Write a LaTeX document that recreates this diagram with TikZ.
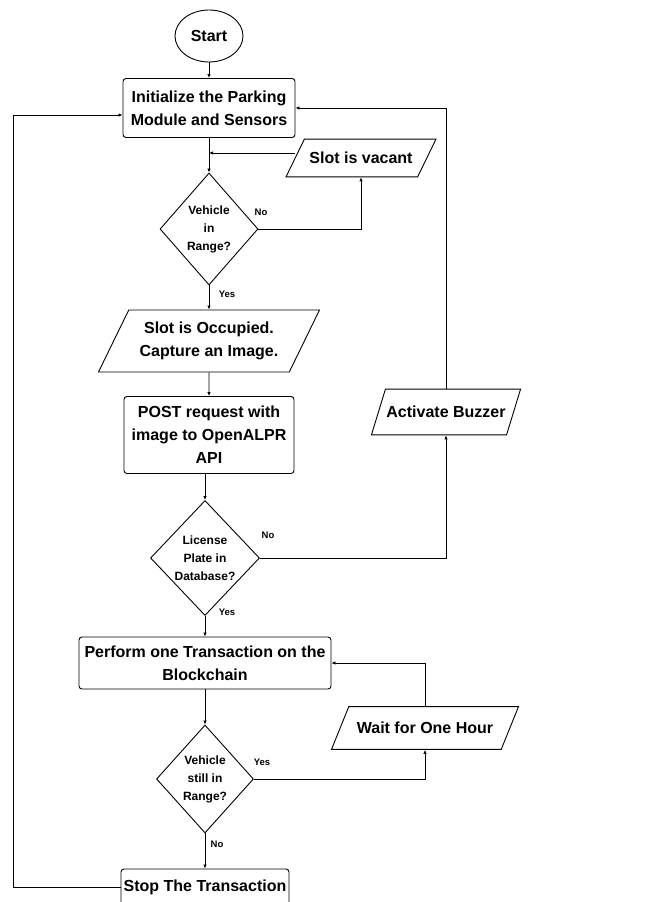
\documentclass[tikz,border=0pt]{standalone}
\usepackage{fontspec}
\setmainfont{Liberation Sans}
\usepackage{tikz}
\usetikzlibrary{shapes,arrows.meta,positioning,calc}

\begin{document}
\begin{tikzpicture}[x=1pt,y=-1pt,line width=.9pt,
		box/.style={draw,rounded corners=3pt,align=center,inner sep=1pt,font=\fontsize{16}{23}\selectfont\bfseries},
		io/.style={draw,trapezium,trapezium left angle=#1,trapezium right angle=180-#1,trapezium stretches body=true,align=center,inner xsep=1pt,font=\fontsize{16}{23}\selectfont\bfseries},
		io/.default=64,
		dec/.style={draw,diamond,align=center,inner sep=0pt,font=\fontsize{12}{18}\selectfont\bfseries},
		lbl/.style={font=\fontsize{9.5}{10}\selectfont\bfseries},
		arr/.style={-{Latex[length=4pt,width=3.5pt]}}]
		
		\useasboundingbox (0,0) rectangle (665,902);
		
		% main column
		\node[draw,ellipse,minimum width=68,minimum height=52,inner sep=0pt,font=\fontsize{16}{20}\selectfont\bfseries] (start) at (209,36) {Start};
		\node[box,minimum width=172,minimum height=59] (init) at (209,108) {Initialize the Parking\\Module and Sensors};
		\node[dec,minimum width=98,minimum height=112] (inrange) at (209,229) {Vehicle\\in\\Range?};
		\node[io,minimum width=221,inner ysep=12] (occupied) at (209,341) {Slot is Occupied.\\Capture an Image.};
		\node[box,minimum width=170,minimum height=77] (post) at (209,435) {POST request with\\image to OpenALPR\\API};
		\node[dec,minimum width=109,minimum height=115] (indb) at (205,558) {License\\Plate in\\Database?};
		\node[box,minimum width=252,minimum height=52] (perform) at (205,663) {Perform one Transaction on the\\Blockchain};
		\node[dec,minimum width=97,minimum height=108] (still) at (205,779) {Vehicle\\still in\\Range?};
		\node[box,minimum width=168,minimum height=36] (stop) at (205,887) {Stop The Transaction};
		
		% side column
		\node[io,minimum width=150,inner ysep=13] (vacant) at (361,158) {Slot is vacant};
		\node[io=73,minimum width=145,inner ysep=17] (buzzer) at (446,412) {Activate Buzzer};
		\node[io=68,minimum width=187,inner ysep=15.5] (wait) at (425,728) {Wait for One Hour};
		
		% yes / no
		\node[lbl] (no1) at (261,212) {No};
		\node[lbl] (yes1) at (227,294) {Yes};
		\node[lbl] (no2) at (268,535) {No};
		\node[lbl] (yes2) at (227,612) {Yes};
		\node[lbl] (yes3) at (262,762) {Yes};
		\node[lbl] (no3) at (217,844) {No};
		
		\coordinate (vin) at ([yshift=5pt]vacant.west);
		\coordinate (back) at (13,887);
		
		\draw[arr] (start) -- (init);
		\draw[arr] (init) -- (inrange);
		\draw[arr] (vin) -- (vin -| init.south);
		\draw[arr] (inrange.east) -| (vacant.south);
		\draw[arr] (inrange) -- (occupied);
		\draw[arr] (occupied) -- (post);
		\draw[arr] (post.south -| indb.north) -- (indb.north);
		\draw[arr] (indb.east) -| (buzzer.south);
		\draw[arr] (buzzer.north) |- (init.east);
		\draw[arr] (indb) -- (perform);
		\draw[arr] (perform) -- (still);
		\draw[arr] (still.east) -| (wait.south);
		\draw[arr] (wait.north) |- (perform.east);
		\draw[arr] (still) -- (stop);
		\draw[arr] (stop.west) -- (back) |- ([yshift=-7pt]init.west);
\end{tikzpicture}
\end{document}
